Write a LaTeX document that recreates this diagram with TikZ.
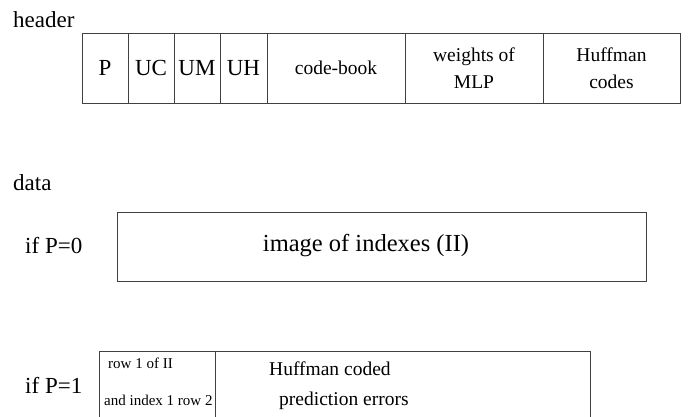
\documentclass[tikz,border=0pt]{standalone}
\usepackage{fontspec}
\setmainfont{Liberation Serif}
\usetikzlibrary{positioning}

\tikzset{
    field/.style={draw=black!75, line width=0.9pt, rectangle, minimum height=70pt,
        inner sep=0pt, outer sep=0pt, anchor=north west, align=center},
    big/.style={font=\fontsize{23}{27}\selectfont},
    mid/.style={font=\fontsize{19.5}{27}\selectfont},
    small/.style={font=\fontsize{15}{37}\selectfont}
}

\begin{document}
\begin{tikzpicture}[x=1pt, y=-1pt]
    \useasboundingbox (0,0) rectangle (690,417);
    \clip (0,0) rectangle (690,417);

    % header fields
    \node[big, anchor=west, inner sep=0pt] (hdr) at (13,20) {header};
    \node[field, big, minimum width=46pt] (p) at (82,33) {P};
    \node[field, big, minimum width=46pt, right=0pt of p] (uc) {UC};
    \node[field, big, minimum width=46pt, right=0pt of uc] (um) {UM};
    \node[field, big, minimum width=47pt, right=0pt of um] (uh) {UH};
    \node[field, mid, minimum width=138pt, right=0pt of uh] (cb) {code-book};
    \node[field, mid, minimum width=138pt, right=0pt of cb] (mlp) {weights of\\MLP};
    \node[field, mid, minimum width=137pt, right=0pt of mlp] (huf) {Huffman\\codes};

    % data, P=0
    \node[big, anchor=west, inner sep=0pt] (dat) at (13,183) {data};
    \node[big, anchor=west, inner sep=0pt] (ifzero) at (25,246) {if P=0};
    \node[field, minimum width=529pt, minimum height=69pt] (iibox) at (117,212) {};
    \node[font=\fontsize{24.5}{28}\selectfont] (ii) at (366,246) {image of indexes (II)};

    % data, P=1
    \node[big, anchor=west, inner sep=0pt] (ifone) at (25,385) {if P=1};
    \node[field, minimum width=116pt, minimum height=90pt] (rowbox) at (99,351) {};
    \node[field, minimum width=375pt, minimum height=90pt, right=0pt of rowbox] (errbox) {};
    \node[small, align=left, anchor=west, inner sep=0pt] (rowtxt) at (104,382)
        {\hspace*{4pt}row 1 of II\\and index 1 row 2};
    \node[font=\fontsize{19.5}{30}\selectfont, align=left, anchor=west, inner sep=0pt]
        (errtxt) at (269,386) {Huffman coded\\\hspace*{10pt}prediction errors};
\end{tikzpicture}
\end{document}
